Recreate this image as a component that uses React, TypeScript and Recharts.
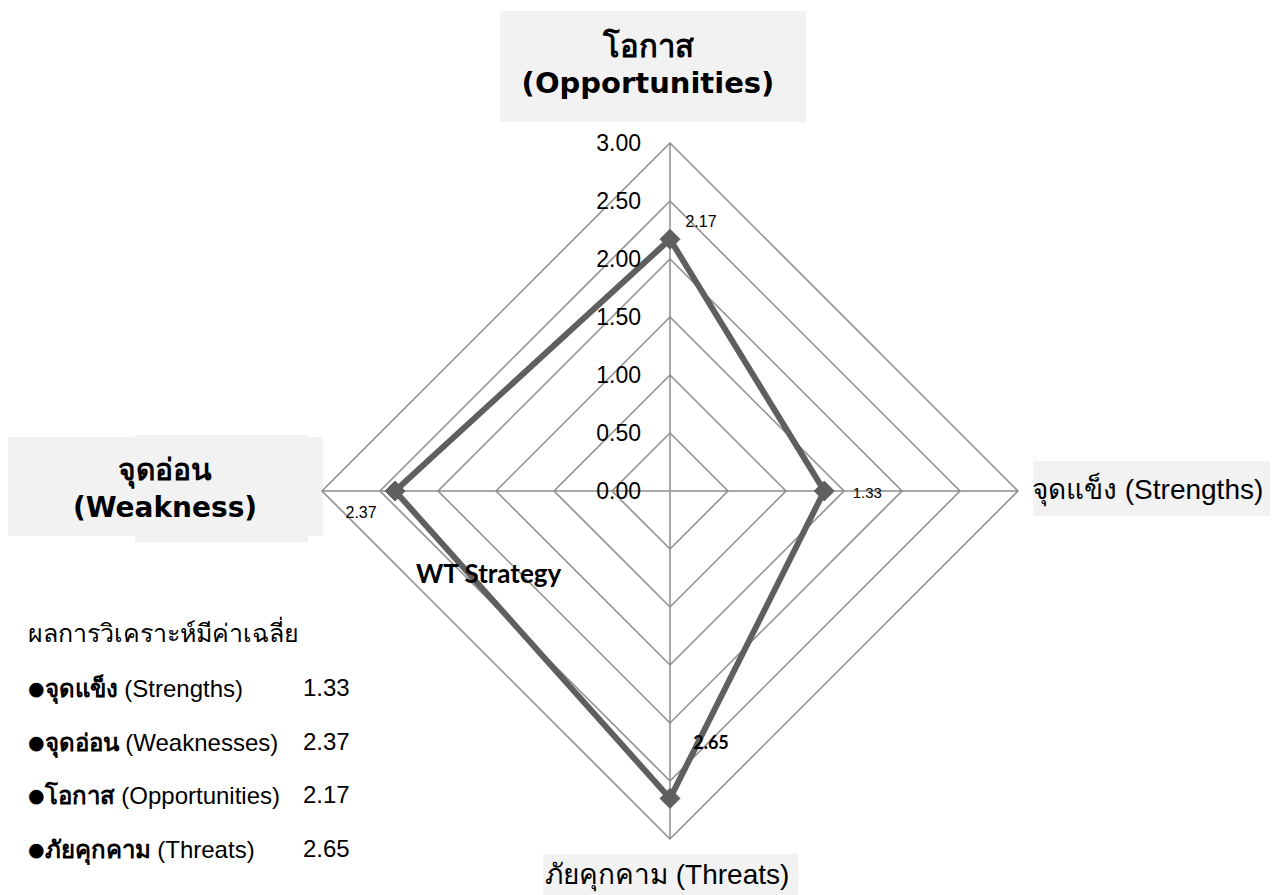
import React from 'react';
import {
  RadarChart,
  Radar,
  PolarGrid,
  PolarAngleAxis,
  PolarRadiusAxis,
  LabelList,
} from 'recharts';

// clockwise from the top
const categories = ['โอกาส', 'จุดแข็ง', 'ภัยคุกคาม', 'จุดอ่อน'];
const englishNames = ['Opportunities', 'Strengths', 'Threats', 'Weakness'];
const scores = [2.17, 1.33, 2.65, 2.37];
const radiusTicks = [0, 0.5, 1, 1.5, 2, 2.5, 3];

const legendThai = ['จุดแข็ง', 'จุดอ่อน', 'โอกาส', 'ภัยคุกคาม'];
const legendEnglish = ['Strengths', 'Weaknesses', 'Opportunities', 'Threats'];
const legendValues = [1.33, 2.37, 2.17, 2.65];

const data = categories.map((name, i) => ({ name, english: englishNames[i], value: scores[i] }));

const W = 1272;
const H = 895;
const CX = 670;
const CY = 491;
const R = 348;
const MAX = 3;

const THAI = "Tahoma, 'DejaVu Sans', 'Noto Sans', sans-serif";
const ARIAL = "'Liberation Sans', Arial, sans-serif";
const CAL = "Lato, 'Open Sans', sans-serif";
const LINE = '#5f5f5f';
const GRID = '#8c8c8c';

const labelOffsets = [
  { dx: 31, dy: -18, bold: false, size: 16 },
  { dx: 43, dy: 1, bold: false, size: 15 },
  { dx: 41, dy: -56, bold: true, size: 18 },
  { dx: -34, dy: 21, bold: false, size: 16 },
];

const Diamond = (props: any) => {
  const { cx, cy } = props;
  if (cx == null || cy == null) return null;
  const s = 10;
  return (
    <polygon
      points={`${cx},${cy - s} ${cx + s},${cy} ${cx},${cy + s} ${cx - s},${cy}`}
      fill={LINE}
      stroke={LINE}
      strokeWidth={1}
    />
  );
};

const renderRadiusTick = (props: any) => {
  const { x, y, payload } = props;
  return (
    <text
      x={x - 29}
      y={y}
      textAnchor="end"
      dominantBaseline="central"
      fontFamily={ARIAL}
      fontSize={23}
      fill="#000"
    >
      {Number(payload.value).toFixed(2)}
    </text>
  );
};

const renderValueLabel = (props: any) => {
  const { x, y, value, index } = props;
  const o = labelOffsets[index] || labelOffsets[0];
  return (
    <text
      x={x + o.dx}
      y={y + o.dy}
      textAnchor="middle"
      dominantBaseline="central"
      fontFamily={o.bold ? CAL : ARIAL}
      fontWeight={o.bold ? 700 : 400}
      fontSize={o.size}
      fill="#000"
    >
      {Number(value).toFixed(2)}
    </text>
  );
};

const boxStyle: React.CSSProperties = {
  position: 'absolute',
  background: '#f2f2f2',
};

export default function App() {
  return (
    <div style={{ position: 'absolute', left: 0, top: 0, width: W, height: H, background: '#fff', overflow: 'hidden' }}>
      {/* axis heading boxes */}
      <div style={{ ...boxStyle, left: 500, top: 11, width: 306, height: 111 }} />
      <div style={{ ...boxStyle, left: 8, top: 437, width: 315, height: 99 }} />
      <div style={{ ...boxStyle, left: 135, top: 435, width: 173, height: 107 }} />
      <div style={{ ...boxStyle, left: 1033, top: 461, width: 237, height: 55 }} />
      <div style={{ ...boxStyle, left: 543, top: 854, width: 255, height: 41 }} />

      <div style={{ position: 'absolute', left: 0, top: 0 }}>
        <RadarChart width={W} height={H} data={data} cx={CX} cy={CY} outerRadius={R} margin={{ top: 0, right: 0, bottom: 0, left: 0 }}>
          <PolarGrid
            gridType="polygon"
            polarRadius={radiusTicks.map((t) => (t / MAX) * R)}
            stroke={GRID}
            strokeWidth={1.5}
          />
          <PolarAngleAxis dataKey="name" tick={false} axisLine={false} tickLine={false} />
          <PolarRadiusAxis
            angle={90}
            domain={[0, MAX]}
            ticks={radiusTicks as any}
            tickCount={radiusTicks.length}
            tick={renderRadiusTick}
            axisLine={false}
            tickLine={false}
          />
          <Radar
            dataKey="value"
            stroke={LINE}
            strokeWidth={6}
            fill="none"
            fillOpacity={0}
            dot={<Diamond />}
            isAnimationActive={false}
          >
            <LabelList dataKey="value" content={renderValueLabel} />
          </Radar>
        </RadarChart>
      </div>

      {/* axis headings */}
      <div
        style={{
          position: 'absolute', left: 503, top: 28, width: 290, textAlign: 'center',
          fontFamily: THAI, fontWeight: 700, fontSize: 29, lineHeight: '37px', color: '#000',
        }}
      >
        <div style={{ fontSize: 31 }}>{categories[0]}</div>
        <div>({englishNames[0]})</div>
      </div>
      <div
        style={{
          position: 'absolute', left: 40, top: 451, width: 250, textAlign: 'center',
          fontFamily: THAI, fontWeight: 700, fontSize: 28, lineHeight: '38px', color: '#000',
        }}
      >
        <div style={{ fontSize: 30 }}>{categories[3]}</div>
        <div>({englishNames[3]})</div>
      </div>
      <div
        style={{
          position: 'absolute', left: 1032, top: 471, whiteSpace: 'nowrap',
          fontFamily: ARIAL, fontSize: 28, lineHeight: '38px', color: '#000',
        }}
      >
        <span style={{ fontFamily: THAI }}>{categories[1]}</span> ({englishNames[1]})
      </div>
      <div
        style={{
          position: 'absolute', left: 545, top: 856, whiteSpace: 'nowrap',
          fontFamily: ARIAL, fontSize: 28, lineHeight: '38px', color: '#000',
        }}
      >
        <span style={{ fontFamily: THAI }}>{categories[2]}</span> ({englishNames[2]})
      </div>

      <div
        style={{
          position: 'absolute', left: 416, top: 557, whiteSpace: 'nowrap',
          fontFamily: CAL, fontWeight: 700, fontSize: 26, lineHeight: '32px', color: '#000',
        }}
      >
        WT Strategy
      </div>

      {/* summary */}
      <div style={{ position: 'absolute', left: 28, top: 618, fontFamily: ARIAL, fontSize: 24, color: '#000' }}>
        <div style={{ height: 54, lineHeight: '32px', fontFamily: THAI, fontSize: 25 }}>ผลการวิเคราะห์มีค่าเฉลี่ย</div>
        {legendThai.map((t, i) => (
          <div key={t} style={{ position: 'relative', height: 53.7, lineHeight: '32px', whiteSpace: 'nowrap' }}>
            <span style={{ fontFamily: "'DejaVu Sans', sans-serif", fontSize: 19, verticalAlign: 2 }}>●</span>
            <span style={{ fontFamily: THAI, fontWeight: 700 }}>{t}</span> ({legendEnglish[i]})
            <span style={{ position: 'absolute', left: 275 }}>{legendValues[i].toFixed(2)}</span>
          </div>
        ))}
      </div>
    </div>
  );
}
